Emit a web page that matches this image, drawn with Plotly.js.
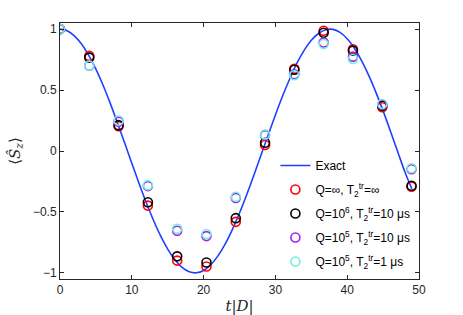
<!DOCTYPE html>
<html>
<head>
<meta charset="utf-8">
<script src="https://cdn.plot.ly/plotly-3.0.1.min.js"></script>
<style>html,body{margin:0;padding:0;background:#fff;}#chart{width:463px;height:315px;}</style>
</head>
<body>
<div id="chart"></div>
<script>
// Exact curve
const exactT = [0,1,2,3,4,5,6,7,8,9,10,11,12,13,14,15,16,17,18,19,20,21,22,23,24,25,26,27,28,29,30,31,32,33,34,35,36,37,38,39,40,41,42,43,44,45,46,47,48,49];
const exactS = [1,0.986,0.945,0.877,0.785,0.671,0.539,0.391,0.232,0.067,-0.100,-0.264,-0.421,-0.566,-0.695,-0.805,-0.892,-0.955,-0.991,-0.999,-0.980,-0.933,-0.860,-0.764,-0.645,-0.509,-0.359,-0.199,-0.033,0.133,0.296,0.451,0.593,0.720,0.825,0.908,0.964,0.995,0.998,0.973,0.921,0.843,0.742,0.620,0.481,0.329,0.166,0.000,-0.166,-0.31];

// Sample times
const sampleT = [0,4.08,8.16,12.24,16.32,20.4,24.48,28.56,32.64,36.72,40.8,44.88,48.96];
// Q=inf, T2=inf
const redS    = [1,0.78,0.204,-0.448,-0.899,-0.948,-0.581,0.049,0.674,0.986,0.835,0.359,-0.293];
// Q=1e6, T2=10us
const blackS  = [1,0.766,0.212,-0.42,-0.864,-0.915,-0.551,0.068,0.666,0.97,0.823,0.372,-0.285];
// Q=1e5, T2=10us
const purpleS = [1,0.70,0.24,-0.288,-0.654,-0.698,-0.385,0.13,0.63,0.89,0.774,0.38,-0.15];
// Q=1e5, T2=1us
const cyanS   = [1,0.70,0.25,-0.28,-0.638,-0.681,-0.375,0.136,0.622,0.878,0.755,0.386,-0.141];

const legendNames = [
  "Exact",
  "Q=\u221e, T<sub>2</sub><sup>tr</sup>=\u221e",
  "Q=10<sup>6</sup>, T<sub>2</sub><sup>tr</sup>=10 \u03bcs",
  "Q=10<sup>5</sup>, T<sub>2</sub><sup>tr</sup>=10 \u03bcs",
  "Q=10<sup>5</sup>, T<sub>2</sub><sup>tr</sup>=1 \u03bcs"
];
const xTicks = [0,10,20,30,40,50];
const yTicks = [-1,-0.5,0,0.5,1];
const yTickText = ["\u22121","\u22120.5","0","0.5","1"];

function markerTrace(y, name, color, grp){
  return {x: sampleT, y: y, name: name, legendgroup: grp, mode: 'markers', type: 'scatter',
    marker: {symbol: 'circle-open', size: 9, color: color, line: {width: 1.6, color: color}}};
}

const data = [
  {x: exactT, y: exactS, name: legendNames[0], legendgroup: 'g0', mode: 'lines', type: 'scatter',
   line: {color: '#2040ff', width: 1.6, shape: 'spline'}},
  markerTrace(redS, legendNames[1], '#ff0000', 'g1'),
  markerTrace(blackS, legendNames[2], '#000000', 'g2'),
  markerTrace(purpleS, legendNames[3], '#a020f0', 'g3'),
  markerTrace(cyanS, legendNames[4], '#70f0dc', 'g4')
];

const axisCommon = {
  showline: true, mirror: 'ticks', linecolor: '#262626', linewidth: 1,
  ticks: 'inside', ticklen: 4, tickcolor: '#262626', tickwidth: 1,
  showgrid: false, zeroline: false,
  tickfont: {family: 'Liberation Sans, Arial, sans-serif', size: 12, color: '#262626'}
};

const layout = {
  width: 463, height: 315,
  margin: {l: 60, r: 44, t: 23, b: 36},
  paper_bgcolor: '#ffffff', plot_bgcolor: '#ffffff',
  showlegend: true,
  legend: {x: 0.6, y: 0.5, xanchor: 'left', yanchor: 'top', bgcolor: 'rgba(0,0,0,0)',
    font: {family: 'Liberation Sans, Arial, sans-serif', size: 12, color: '#000'},
    tracegroupgap: 5},
  xaxis: Object.assign({}, axisCommon, {range: [0, 50], tickvals: xTicks,
    title: {text: '<i>t</i>|<i>D</i>|', font: {family: 'DejaVu Serif, serif', size: 15, color: '#262626'}, standoff: 6}}),
  yaxis: Object.assign({}, axisCommon, {range: [-1.05, 1.05], tickvals: yTicks, ticktext: yTickText,
    title: {text: '\u27e8<i>S\u0302</i><sub><i>z</i></sub>\u27e9', font: {family: 'DejaVu Serif, serif', size: 15, color: '#262626'}, standoff: 8}})
};

Plotly.newPlot('chart', data, layout, {displayModeBar: false, staticPlot: true});
</script>
</body>
</html>
